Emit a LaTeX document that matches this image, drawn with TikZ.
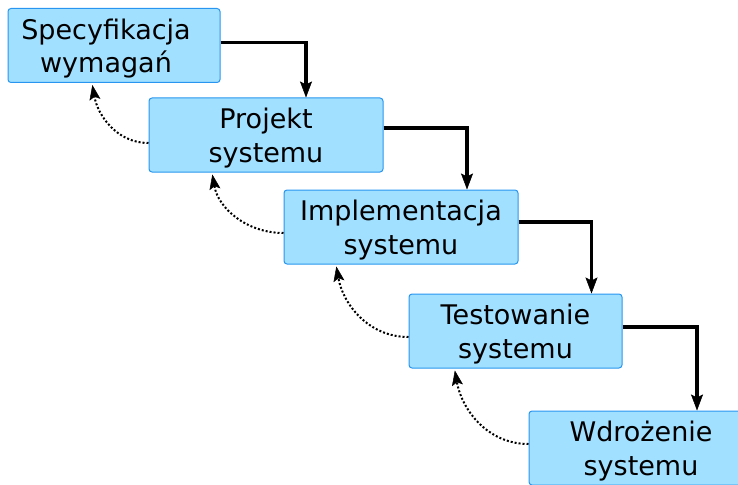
\documentclass[tikz,border=0pt]{standalone}
\usepackage{fontspec}
\setmainfont{DejaVu Sans}
\usetikzlibrary{arrows.meta,positioning}
\definecolor{boxfill}{RGB}{162,224,255}
\definecolor{boxline}{RGB}{40,150,240}
\tikzset{
    stage/.style={draw=boxline, fill=boxfill, line width=1pt, rounded corners=3pt,
        align=center, minimum height=74pt, inner sep=0pt, text height=60pt,
        font=\fontsize{27}{33.5}\selectfont},
    flow/.style={line width=3.5pt, -{Stealth[length=16pt,width=12pt,inset=3pt,line width=0.5pt]}},
    back/.style={line width=2pt, dotted, shorten >=2pt, -{Stealth[length=15pt,width=11pt,inset=3pt,line width=0.5pt]}}
}

\begin{document}
\begin{tikzpicture}[x=1pt,y=1pt]
    \useasboundingbox (0,0) rectangle (738,-484);

    % Stages
    \node[stage, minimum width=212pt] (spec) at (114,-45.5) {Specyfikacja\kern16pt\\wymagań\kern16pt};
    \node[stage, minimum width=234pt] (proj) at (266,-135) {Projekt\\systemu};
    \node[stage, minimum width=234pt] (impl) at (401,-227) {Implementacja\\systemu};
    \node[stage, minimum width=213pt] (test) at (515.5,-331) {Testowanie\\systemu};
    \node[stage, minimum width=224pt] (wdr) at (641,-448) {Wdrożenie\\systemu};

    % Forward flow
    \foreach \a/\b/\dy/\dx in {spec/proj/3/40, proj/impl/7/66, impl/test/5/76, test/wdr/4/56} {
        \draw[flow] ([yshift=\dy pt]\a.east) -| ([xshift=\dx pt]\b.north);
    }

    % Feedback
    \foreach \a/\b/\dy/\dx in {proj/spec/-8/-22, impl/proj/-6/-54, test/impl/-6/-65, wdr/test/4/-61} {
        \draw[back] ([yshift=\dy pt]\a.west) to[out=180,in=-80] ([xshift=\dx pt]\b.south);
    }
\end{tikzpicture}
\end{document}
